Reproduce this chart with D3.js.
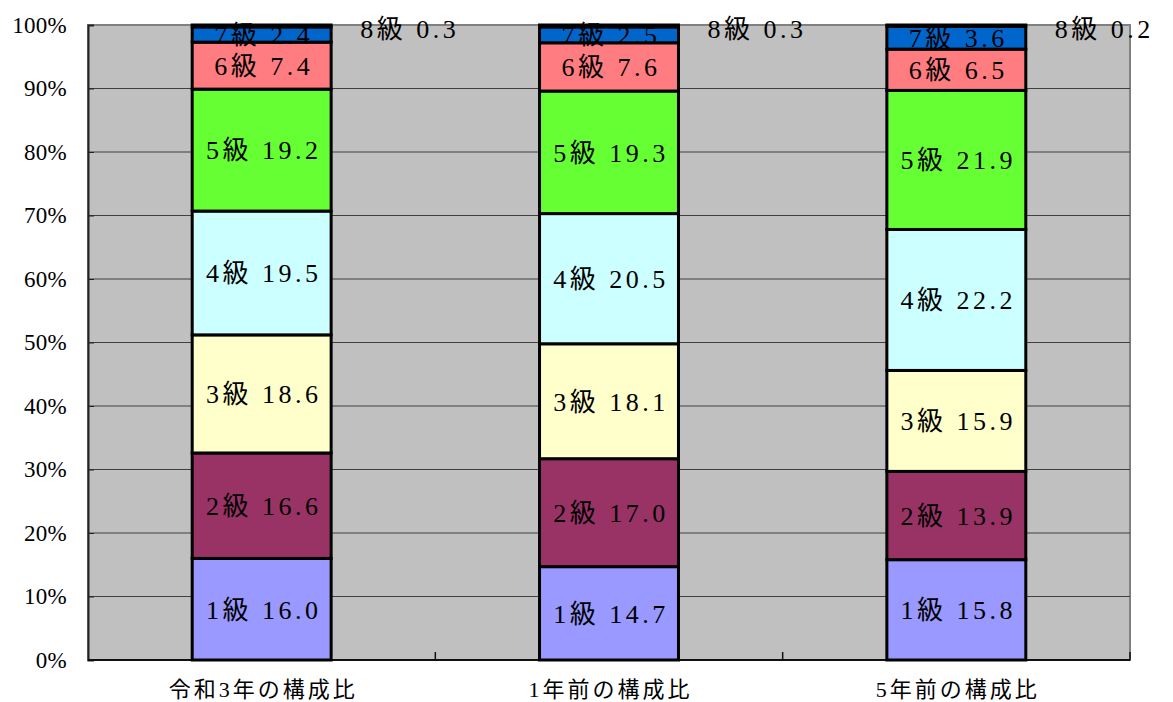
<!DOCTYPE html>
<html>
<head>
<meta charset="utf-8">
<script src="https://cdn.jsdelivr.net/npm/d3@7"></script>
<style>
  body { margin: 0; background: #fff; }
  text { font-family: "Liberation Serif", "Noto Sans CJK JP", serif; fill: #000; }
</style>
</head>
<body>
<div id="chart"></div>
<script>
const width = 1173;
const height = 702;
const margin = {top: 25, right: 43, bottom: 42, left: 88};

// 構成比 (%)
const categories = ["令和3年の構成比", "1年前の構成比", "5年前の構成比"];
const grades = ["1級", "2級", "3級", "4級", "5級", "6級", "7級", "8級"];
const reiwa3 = [16.0, 16.6, 18.6, 19.5, 19.2, 7.4, 2.4, 0.3];
const oneYearAgo = [14.7, 17.0, 18.1, 20.5, 19.3, 7.6, 2.5, 0.3];
const fiveYearsAgo = [15.8, 13.9, 15.9, 22.2, 21.9, 6.5, 3.6, 0.2];
const yTicks = [0, 10, 20, 30, 40, 50, 60, 70, 80, 90, 100];
const colors = ["#9999FF", "#993366", "#FFFFCC", "#CCFFFF", "#66FF33", "#FF7C80", "#0066CC", "#800080"];

const series = [reiwa3, oneYearAgo, fiveYearsAgo];

const svg = d3.select("#chart").append("svg")
    .attr("width", width)
    .attr("height", height);

const x = d3.scaleBand().domain(categories).range([margin.left, width - margin.right]).padding(0);
const y = d3.scaleLinear().domain([0, 100]).range([height - margin.bottom, margin.top]);
const color = d3.scaleOrdinal().domain(grades).range(colors);

const barW = x.bandwidth() * 0.4;

// plot area
svg.append("rect")
    .attr("x", margin.left)
    .attr("y", margin.top)
    .attr("width", width - margin.left - margin.right)
    .attr("height", height - margin.top - margin.bottom)
    .attr("fill", "#C0C0C0")
    .attr("stroke", "#808080")
    .attr("stroke-width", 2);

// grid
svg.append("g")
    .selectAll("line")
    .data(yTicks.filter(d => d > 0 && d < 100)).enter()
    .append("line")
    .attr("x1", margin.left)
    .attr("x2", width - margin.right)
    .attr("y1", d => y(d))
    .attr("y2", d => y(d))
    .attr("stroke", "#404040")
    .attr("stroke-width", 1);

// y axis
const yAxis = svg.append("g")
    .attr("transform", `translate(${margin.left},0)`)
    .call(d3.axisLeft(y).tickValues(yTicks).tickFormat(d => d + "%").tickSize(-6).tickPadding(21));
yAxis.select(".domain").attr("stroke", "#222").attr("stroke-width", 2);
yAxis.selectAll(".tick line").attr("stroke", "#222");
yAxis.selectAll("text").attr("font-size", 23).attr("letter-spacing", "0.3px")
    .attr("font-family", "'Liberation Serif', serif");

// x axis
const xAxis = svg.append("g")
    .attr("transform", `translate(0,${height - margin.bottom})`);
xAxis.append("line")
    .attr("x1", margin.left).attr("x2", width - margin.right)
    .attr("stroke", "#111").attr("stroke-width", 2);
xAxis.selectAll("line.tk")
    .data(categories.slice(1).map(c => x(c)).concat([width - margin.right])).enter()
    .append("line").attr("class", "tk")
    .attr("x1", d => d).attr("x2", d => d)
    .attr("y1", 0).attr("y2", -8)
    .attr("stroke", "#111").attr("stroke-width", 1.5);
xAxis.selectAll("text")
    .data(categories).enter()
    .append("text")
    .attr("x", d => x(d) + x.bandwidth() / 2 + 1.5)
    .attr("y", 37)
    .attr("text-anchor", "middle")
    .attr("font-size", 22)
    .attr("letter-spacing", "3px")
    .text(d => d);

// bars
categories.forEach((cat, ci) => {
    const vals = series[ci];
    const x0 = x(cat) + x.bandwidth() * 0.3;
    let acc = 0;
    const segs = vals.map((v, i) => {
        const s = {grade: grades[i], v: v, y0: acc, y1: acc + v};
        acc += v;
        return s;
    });

    const g = svg.append("g");
    g.selectAll("rect")
        .data(segs).enter()
        .append("rect")
        .attr("x", x0)
        .attr("width", barW)
        .attr("y", d => y(d.y1))
        .attr("height", d => y(d.y0) - y(d.y1))
        .attr("fill", d => color(d.grade))
        .attr("stroke", "#000")
        .attr("stroke-width", 3);

    // labels
    g.selectAll("text")
        .data(segs).enter()
        .append("text")
        .attr("x", d => d.grade === "8級" ? x0 + barW + 29 : x0 + barW / 2 + 2)
        .attr("y", d => (y(d.y0) + y(d.y1)) / 2 + (d.grade === "8級" ? 3 : 0))
        .attr("dy", "0.36em")
        .attr("text-anchor", d => d.grade === "8級" ? "start" : "middle")
        .attr("font-size", 26)
        .attr("letter-spacing", "3.5px")
        .attr("xml:space", "preserve")
        .text(d => `${d.grade} ${d.v.toFixed(1)}`);
});
</script>
</body>
</html>
